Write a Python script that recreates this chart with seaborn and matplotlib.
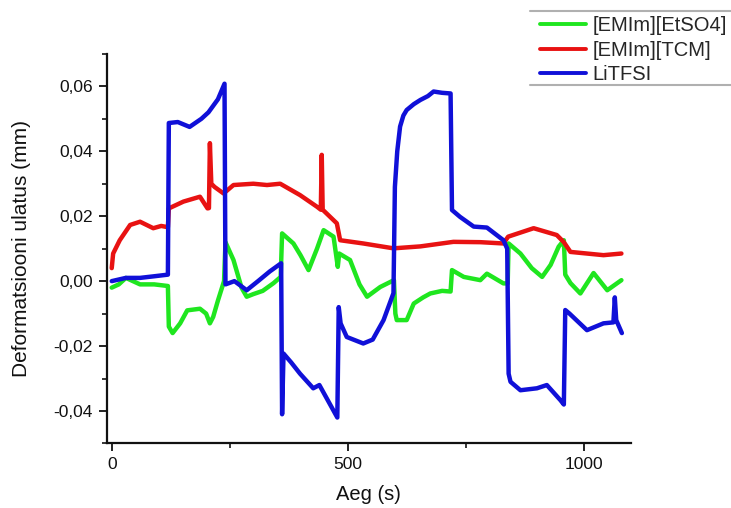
import numpy as np
import pandas as pd
import matplotlib
matplotlib.use("Agg")
import matplotlib.pyplot as plt
from matplotlib.lines import Line2D
from matplotlib.ticker import FuncFormatter, MultipleLocator
import seaborn as sns

# ---------------- data ----------------
series_names = ["[EMIm][EtSO4]", "[EMIm][TCM]", "LiTFSI"]

green_t = [0, 15, 30, 45, 60, 90, 119,
           121, 129, 145, 160, 187, 200, 208, 215, 225, 238,
           241, 258, 275, 286, 300, 320, 343, 358,
           361, 385, 400, 417, 435, 449, 470, 479, 482, 505, 525, 541, 569, 598,
           601, 604, 625, 640, 660, 675, 700, 718,
           721, 746, 781, 795, 830, 839,
           841, 866, 890, 912, 930, 947, 958, 961, 972, 993, 1021, 1050, 1080]
green_v = [-0.002, -0.001, 0.001, 0.000, -0.001, -0.001, -0.0015,
           -0.014, -0.016, -0.013, -0.009, -0.0085, -0.010, -0.013, -0.011, -0.006, 0.000,
           0.012, 0.0065, -0.002, -0.0048, -0.004, -0.003, -0.0006, 0.0013,
           0.0147, 0.0116, 0.008, 0.0034, 0.010, 0.0157, 0.0137, 0.0044, 0.0085, 0.0065, -0.001, -0.0048, -0.0018, 0.0003,
           -0.010, -0.012, -0.012, -0.0069, -0.005, -0.0038, -0.003, -0.0032,
           0.0034, 0.0013, 0.0003, 0.0023, -0.0007, -0.0007,
           0.0116, 0.0085, 0.004, 0.0013, 0.005, 0.0106, 0.0126, 0.002, -0.0006, -0.0038, 0.0025, -0.0028, 0.0003]

red_t = [0, 3, 17, 39, 60, 88, 105, 119,
         121, 152, 187, 203, 206, 208, 211, 218, 237, 258, 300, 329, 357,
         399, 435, 443, 445, 447, 477, 484, 533, 597, 654, 724, 781, 830,
         840, 894, 943, 958, 972, 1042, 1080]
red_v = [0.004, 0.0085, 0.0126, 0.0173, 0.0183, 0.0163, 0.017, 0.0166,
         0.0224, 0.0245, 0.026, 0.0224, 0.0225, 0.0425, 0.030, 0.029, 0.027, 0.0296, 0.030, 0.0296, 0.030,
         0.0265, 0.0229, 0.022, 0.0389, 0.022, 0.0178, 0.0126, 0.0116, 0.0101, 0.0107, 0.0121, 0.012, 0.0116,
         0.0137, 0.0163, 0.0142, 0.012, 0.009, 0.008, 0.0085]

blue_t = [0, 30, 60, 90, 119,
          121, 140, 165, 190, 205, 225, 239,
          241, 260, 286, 310, 335, 359,
          361, 364, 380, 399, 427, 440, 478,
          481, 485, 498, 533, 553, 576, 597,
          600, 605, 611, 618, 625, 640, 654, 670, 682, 700, 718,
          721, 738, 767, 795, 830, 838,
          841, 845, 866, 901, 922, 951, 958,
          961, 970, 1007, 1042, 1063, 1066, 1069, 1081]
blue_v = [0.000, 0.001, 0.001, 0.0015, 0.002,
          0.0487, 0.049, 0.0475, 0.050, 0.052, 0.056, 0.0608,
          -0.001, 0.000, -0.0028, 0.000, 0.003, 0.0055,
          -0.041, -0.0223, -0.025, -0.0285, -0.033, -0.032, -0.042,
          -0.008, -0.013, -0.0172, -0.0192, -0.018, -0.012, -0.0037,
          0.029, 0.040, 0.0476, 0.051, 0.0527, 0.0545, 0.0558, 0.057, 0.0584, 0.058, 0.0578,
          0.0219, 0.0198, 0.0168, 0.0165, 0.0126, 0.010,
          -0.0285, -0.031, -0.0336, -0.033, -0.032, -0.0367, -0.038,
          -0.0089, -0.010, -0.0151, -0.013, -0.0127, -0.005, -0.012, -0.016]

x_ticks = [0, 500, 1000]
y_ticks = [-0.04, -0.02, 0.00, 0.02, 0.04, 0.06]

colors = {"[EMIm][EtSO4]": "#1fe61f", "[EMIm][TCM]": "#e81212", "LiTFSI": "#1010d8"}

frames = []
for name, tt, vv in zip(series_names, [green_t, red_t, blue_t], [green_v, red_v, blue_v]):
    frames.append(pd.DataFrame({"t": tt, "v": vv, "series": name}))
df = pd.concat(frames, ignore_index=True)

# ---------------- plot ----------------
sns.set_theme(style="ticks")
plt.rcParams["font.family"] = ["Liberation Sans", "DejaVu Sans"]

fig = plt.figure(figsize=(7.31, 5.08), dpi=100)
ax = fig.add_axes([0.146, 0.127, 0.717, 0.767])

sns.lineplot(data=df, x="t", y="v", hue="series", hue_order=series_names,
             palette=colors, sort=False, estimator=None, units="series",
             linewidth=3.2, legend=False, ax=ax)

ax.set_xlim(-10.6, 1100)
ax.set_ylim(-0.05, 0.07)
ax.set_xticks(x_ticks)
ax.set_yticks(y_ticks)
ax.xaxis.set_minor_locator(MultipleLocator(250))
ax.yaxis.set_minor_locator(MultipleLocator(0.01))
ax.yaxis.set_major_formatter(FuncFormatter(
    lambda v, p: ("%.2f" % v).replace(".", ",").replace("-0,00", "0,00")))
ax.tick_params(which="major", direction="out", length=6, width=1.3, labelsize=12.5,
               colors="#111111", pad=4)
ax.tick_params(which="minor", direction="out", length=3.6, width=1.3)

for s in ["top", "right"]:
    ax.spines[s].set_visible(False)
for s in ["left", "bottom"]:
    ax.spines[s].set_linewidth(1.6)
    ax.spines[s].set_color("#111111")

ax.set_xlabel("Aeg (s)", fontsize=14.5, labelpad=9, color="#111111")
ax.set_ylabel("Deformatsiooni ulatus (mm)", fontsize=15, labelpad=16, color="#111111")

# legend
handles = [Line2D([], [], color=colors[n], linewidth=2.8) for n in series_names]
leg = fig.legend(handles, series_names, loc="upper left",
                 bbox_to_anchor=(538 / 731, 1 - 14 / 508), frameon=False,
                 fontsize=14.5, handlelength=2.3, handletextpad=0.3,
                 labelspacing=0.28, borderpad=0.1, borderaxespad=0)
fig.add_artist(Line2D([530 / 731, 1.0], [1 - 11 / 508, 1 - 11 / 508],
                      transform=fig.transFigure, color="#b0b0b0", linewidth=1.5))
fig.add_artist(Line2D([530 / 731, 1.0], [1 - 85 / 508, 1 - 85 / 508],
                      transform=fig.transFigure, color="#b0b0b0", linewidth=1.5))

fig.savefig("out.png", dpi=100)
